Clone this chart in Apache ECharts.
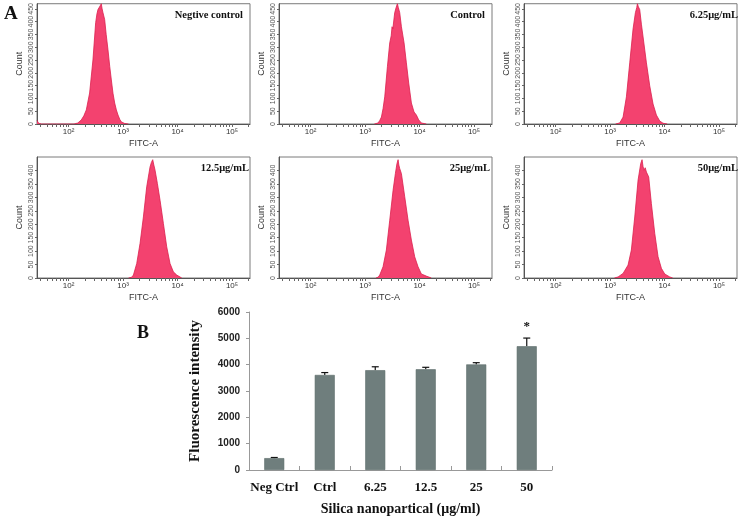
<!DOCTYPE html>
<html><head><meta charset="utf-8">
<script src="https://cdn.jsdelivr.net/npm/echarts@6/dist/echarts.min.js"></script>
<style>html,body{margin:0;padding:0;background:#fff}#c{width:742px;height:517px}</style>
</head><body><div id="c"></div>
<script>
// ---------- Panel A: flow cytometry histograms (x = log10 FITC-A, y = count) ----------
const panelTitles = ['Negtive control', 'Control', '6.25\u03bcg/mL', '12.5\u03bcg/mL', '25\u03bcg/mL', '50\u03bcg/mL'];

const histNegCtrl = [[1.42,14],[1.45,3],[1.5,0],[2.10,0],[2.17,4],[2.233,16],[2.28,32],[2.325,55],[2.386,121],[2.447,250],[2.497,396],[2.52,430],[2.539,447],[2.56,440],[2.58,462],[2.60,470],[2.615,450],[2.631,435],[2.662,408],[2.69,350],[2.723,290],[2.755,225],[2.785,172],[2.815,120],[2.846,82],[2.877,55],[2.907,35],[2.94,18],[2.97,8],[3.03,2],[3.1,0]];
const histCtrl = [[3.17,0],[3.239,4],[3.27,14],[3.30,27],[3.33,60],[3.361,106],[3.41,224],[3.453,317],[3.48,345],[3.495,380],[3.51,372],[3.544,435],[3.57,455],[3.593,470],[3.61,455],[3.636,435],[3.667,380],[3.716,317],[3.758,239],[3.801,160],[3.85,82],[3.899,47],[3.942,35],[3.985,16],[4.033,4],[4.125,0]];
const hist625 = [[3.10,0],[3.177,4],[3.239,27],[3.30,106],[3.361,239],[3.422,371],[3.465,435],[3.49,455],[3.502,470],[3.52,458],[3.544,447],[3.575,390],[3.606,340],[3.667,239],[3.728,149],[3.789,78],[3.85,35],[3.911,12],[3.972,3],[4.05,0]];
const hist125 = [[3.10,0],[3.159,3],[3.19,11],[3.251,54],[3.312,129],[3.373,227],[3.434,339],[3.495,413],[3.52,430],[3.544,440],[3.565,420],[3.587,401],[3.63,351],[3.679,289],[3.74,203],[3.801,116],[3.862,54],[3.923,23],[3.985,11],[4.077,0]];
const hist25 = [[3.20,0],[3.239,3],[3.269,11],[3.33,42],[3.391,104],[3.453,215],[3.514,326],[3.556,388],[3.585,425],[3.606,440],[3.62,420],[3.636,407],[3.667,388],[3.728,302],[3.789,215],[3.85,141],[3.911,79],[3.972,42],[4.033,15],[4.125,7],[4.217,0]];
const hist50 = [[3.08,0],[3.147,4],[3.239,17],[3.33,48],[3.391,104],[3.453,227],[3.514,364],[3.563,426],[3.587,440],[3.605,415],[3.624,401],[3.645,410],[3.667,394],[3.709,376],[3.758,277],[3.82,166],[3.881,79],[3.942,36],[4.003,15],[4.095,4],[4.15,0]];
const histograms = [histNegCtrl, histCtrl, hist625, hist125, hist25, hist50];

const fitcTickValues = [2, 3, 4, 5];
const fitcTickLabels = ['10\u00b2', '10\u00b3', '10\u2074', '10\u2075'];
const countTickStep = 50;

// ---------- Panel B: bar chart ----------
const barCategories = ['Neg Ctrl', 'Ctrl', '6.25', '12.5', '25', '50'];
const barValues = [450, 3610, 3790, 3825, 4010, 4700];
const barErrors = [25, 90, 130, 75, 65, 310];
const barSignif = ['', '', '', '', '', '*'];
const barTicks = [0, 1000, 2000, 3000, 4000, 5000, 6000];

// ---------- layout ----------
const logMin = 1.42, logMax = 5.33;
const minorTicks = [];
for (let n = 1; n <= 5; n++) for (let k = 1; k <= 9; k++) {
  const v = n + Math.log10(k);
  if (v >= logMin && v <= logMax) minorTicks.push(v);
}
const cellLeft = [37, 279, 524];
const cellTop = [3, 157];
const cellW = 213, cellH = 121;
const yMaxRow = [470, 450];

const grids = [], xAxes = [], yAxes = [], series = [];
const graphics = [];
const titlePos = [[243, 15], [485, 15], [738, 15], [249, 168], [490, 168], [738, 168]];

for (let i = 0; i < 6; i++) {
  const row = Math.floor(i / 3), col = i % 3;
  grids.push({left: cellLeft[col], top: cellTop[row], width: cellW, height: cellH,
    show: true, borderColor: '#7a7a7a', borderWidth: 1, backgroundColor: '#fff'});
  xAxes.push({
    type: 'value', gridIndex: i, min: logMin, max: logMax,
    axisLine: {show: true, lineStyle: {color: '#555', width: 1}},
    splitLine: {show: false},
    axisTick: {show: true, customValues: minorTicks, length: 3, lineStyle: {color: '#666'}},
    axisLabel: {customValues: fitcTickValues, fontSize: 8, color: '#333', margin: 4,
      fontFamily: 'Liberation Sans',
      formatter: v => fitcTickLabels[fitcTickValues.indexOf(Math.round(v))] || ''},
    name: 'FITC-A', nameLocation: 'middle', nameGap: 15,
    nameTextStyle: {fontSize: 9, color: '#333', fontFamily: 'Liberation Sans'}
  });
  yAxes.push({
    type: 'value', gridIndex: i, min: 0, max: yMaxRow[row], interval: countTickStep,
    axisLine: {show: true, lineStyle: {color: '#555', width: 1}},
    splitLine: {show: false},
    axisTick: {show: true, length: 2, lineStyle: {color: '#666'}},
    axisLabel: {rotate: 90, fontSize: 7, color: '#555', margin: 2, showMaxLabel: false,
      fontFamily: 'Liberation Sans'},
    name: 'Count', nameLocation: 'middle', nameGap: 13, nameRotate: 90,
    nameTextStyle: {fontSize: 9, color: '#333', fontFamily: 'Liberation Sans'}
  });
  series.push({
    type: 'line', xAxisIndex: i, yAxisIndex: i, data: histograms[i],
    symbol: 'none', silent: true, animation: false,
    lineStyle: {color: '#dc1f4e', width: 0.8},
    areaStyle: {color: '#f3426f', opacity: 1, origin: 'start'}
  });
  graphics.push({type: 'text', x: titlePos[i][0], y: titlePos[i][1],
    style: {text: panelTitles[i], fill: '#111', align: 'right', verticalAlign: 'middle',
      font: 'bold 10.5px "Liberation Serif"'}});
}

// Bar chart grid
grids.push({left: 249, top: 312, width: 303, height: 160});
xAxes.push({
  type: 'category', gridIndex: 6, data: barCategories,
  axisLine: {show: true, lineStyle: {color: '#999'}},
  axisTick: {show: true, inside: true, length: 4, lineStyle: {color: '#999'}},
  axisLabel: {interval: 0, fontFamily: 'Liberation Serif', fontWeight: 'bold', fontSize: 13, color: '#111', margin: 11},
  name: 'Silica nanopartical (\u03bcg/ml)', nameLocation: 'middle', nameGap: 32,
  nameTextStyle: {fontFamily: 'Liberation Serif', fontWeight: 'bold', fontSize: 14, color: '#111'}
});
yAxes.push({
  type: 'value', gridIndex: 6, min: barTicks[0], max: barTicks[barTicks.length - 1], interval: barTicks[1] - barTicks[0],
  axisLine: {show: true, lineStyle: {color: '#999'}},
  axisTick: {show: true, length: 3, lineStyle: {color: '#999'}},
  splitLine: {show: false},
  axisLabel: {fontFamily: 'Liberation Sans', fontWeight: 'bold', fontSize: 10, color: '#222', margin: 9,
    formatter: v => String(v)},
  name: 'Fluorescence intensity', nameLocation: 'middle', nameGap: 46, nameRotate: 90,
  nameTextStyle: {fontFamily: 'Liberation Serif', fontWeight: 'bold', fontSize: 15, color: '#111'}
});
series.push({
  type: 'bar', xAxisIndex: 6, yAxisIndex: 6, data: barValues, barWidth: 20,
  itemStyle: {color: '#6f7e7d', borderColor: '#5d6b6a', borderWidth: 0.6}, animation: false
});
series.push({
  type: 'custom', xAxisIndex: 6, yAxisIndex: 6, animation: false,
  data: barValues.map((v, i) => [i, v, barErrors[i]]),
  encode: {x: 0, y: 1},
  renderItem: function (params, api) {
    const i = api.value(0);
    const base = api.coord([i, api.value(1)]);
    const top = api.coord([i, api.value(1) + api.value(2)]);
    const children = [
      {type: 'line', shape: {x1: base[0], y1: base[1], x2: top[0], y2: top[1]}, style: {stroke: '#111', lineWidth: 1.2}},
      {type: 'line', shape: {x1: top[0] - 3.5, y1: top[1], x2: top[0] + 3.5, y2: top[1]}, style: {stroke: '#111', lineWidth: 1.2}}
    ];
    if (barSignif[i]) {
      children.push({type: 'text', x: top[0], y: top[1] - 11,
        style: {text: barSignif[i], fill: '#111', align: 'center', verticalAlign: 'middle', font: 'bold 13px "Liberation Serif"'}});
    }
    return {type: 'group', children: children};
  }
});

graphics.push({type: 'text', x: 4, y: 14, style: {text: 'A', fill: '#111', align: 'left', verticalAlign: 'middle', font: 'bold 19px "Liberation Serif"'}});
graphics.push({type: 'text', x: 137, y: 333, style: {text: 'B', fill: '#111', align: 'left', verticalAlign: 'middle', font: 'bold 18px "Liberation Serif"'}});

const chart = echarts.init(document.getElementById('c'));
chart.setOption({
  animation: false,
  backgroundColor: '#fff',
  grid: grids, xAxis: xAxes, yAxis: yAxes, series: series, graphic: graphics
});
</script></body></html>
